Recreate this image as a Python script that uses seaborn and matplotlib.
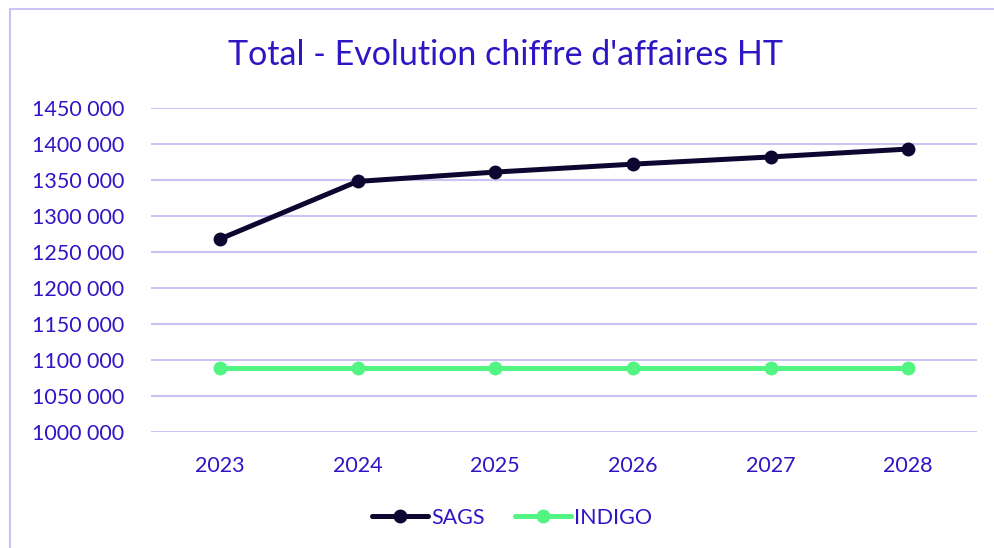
import matplotlib
matplotlib.use("Agg")
import matplotlib.pyplot as plt
import seaborn as sns
import pandas as pd
from matplotlib.patches import Rectangle
from matplotlib.ticker import FuncFormatter
from matplotlib.lines import Line2D

years = [2023, 2024, 2025, 2026, 2027, 2028]
sags = [1268000, 1348000, 1361000, 1372000, 1382000, 1393000]
indigo = [1089000, 1089000, 1089000, 1089000, 1089000, 1089000]
series_names = ["SAGS", "INDIGO"]
title = "Total - Evolution chiffre d'affaires HT"

df = pd.DataFrame({
    "year": years * 2,
    "value": sags + indigo,
    "series": [series_names[0]] * len(years) + [series_names[1]] * len(years),
})

sns.set_theme(style="white")
plt.rcParams['font.family'] = ['Lato', 'DejaVu Sans']

TXT = "#2E16C4"
GRID = "#CBC3F2"
palette = {"SAGS": "#0D0630", "INDIGO": "#52F582"}

fig = plt.figure(figsize=(9.95, 5.48), dpi=100)
ax = fig.add_axes([151/995, 1-432/548, (977-151)/995, (432-108)/548])

sns.lineplot(data=df, x="year", y="value", hue="series", palette=palette,
             marker="o", markersize=10, markeredgewidth=0, linewidth=3.6,
             ax=ax, legend=False)

ax.set_xlim(2022.5, 2028.5)
ax.set_ylim(1000000, 1450000)
ax.set_yticks(range(1000000, 1450001, 50000))
ax.yaxis.set_major_formatter(FuncFormatter(lambda v, p: f"{int(v)//1000} {int(v)%1000:03d}"))
ax.set_xticks(years)
ax.set_xticklabels([str(y) for y in years])
for s in ax.spines.values():
    s.set_visible(False)
ax.grid(axis="y", color=GRID, linewidth=1.5)
ax.set_axisbelow(True)
ax.tick_params(axis="both", length=0, colors=TXT, labelsize=15.5)
ax.tick_params(axis="y", pad=19)
ax.tick_params(axis="x", pad=17)
ax.set_xlabel("")
ax.set_ylabel("")

fig.text(506/995, 1-55/548, title, ha="center", va="center", color=TXT, fontsize=24.5)

handles = [Line2D([], [], color=palette[n], marker="o", markersize=10, markeredgewidth=0,
                  linewidth=3.6, solid_capstyle="round") for n in series_names]
leg = fig.legend(handles, series_names, loc="center", bbox_to_anchor=(512/995, 1-518/548),
                 ncol=2, frameon=False, fontsize=15.5, handlelength=2.6, handletextpad=0.15,
                 columnspacing=1.4)
for t in leg.get_texts():
    t.set_color(TXT)

fig.patches.append(Rectangle((10/995, -0.1), 1.2, 1 + 0.1 - 9/548, transform=fig.transFigure,
                             fill=False, edgecolor="#C8C2F5", linewidth=1.5))

fig.savefig("out.png", dpi=100)
